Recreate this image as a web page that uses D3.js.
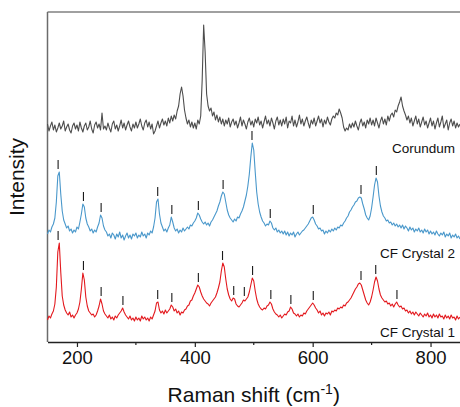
<!DOCTYPE html>
<html>
<head>
<meta charset="utf-8">
<script src="https://cdn.jsdelivr.net/npm/d3@7"></script>
<style>
    html, body { margin: 0; padding: 0; background: #fff; }
    svg { display: block; font-family: "Liberation Sans", Arial, Helvetica, sans-serif; }
</style>
</head>
<body>
<div id="chart"></div>
<script>
// Raman shift grid (cm-1), one sample every 2.5 cm-1 from 150 to 850
const shiftStart = 150, shiftStep = 2.5;

// Intensities (arbitrary units, vertical offsets included)
// one row = 50 cm-1
const corundum = [
    218, 211, 216, 220, 212, 217, 210, 214, 219, 213, 216, 221, 211, 215, 218, 212, 209, 216, 219, 213,
    217, 211, 220, 214, 210, 216, 219, 212, 215, 221, 213, 209, 217, 220, 214, 218, 212, 229, 213, 216,
    212, 219, 214, 210, 218, 221, 213, 217, 211, 216, 222, 214, 219, 212, 217, 221, 215, 211, 218, 214,
    220, 214, 218, 223, 216, 212, 219, 222, 215, 220, 213, 218, 208, 211, 216, 221, 214, 219, 223, 217,
    221, 216, 224, 219, 226, 221, 227, 223, 231, 236, 248, 255, 246, 232, 224, 218, 222, 215, 220, 214,
    219, 213, 222, 218, 226, 262, 317, 290, 248, 236, 231, 234, 226, 230, 222, 227, 220, 225, 218, 223,
    216, 222, 218, 224, 215, 220, 223, 217, 221, 214, 219, 225, 216, 222, 218, 213, 220, 224, 217, 221,
    215, 223, 219, 225, 217, 221, 214, 220, 226, 218, 222, 216, 224, 219, 213, 221, 225, 217, 222, 216,
    223, 218, 225, 214, 221, 219, 226, 216, 222, 215, 220, 227, 218, 223, 216, 221, 225, 219, 214, 222,
    218, 224, 216, 221, 226, 219, 223, 215, 222, 218, 225, 220, 217, 223, 226, 224, 229, 227, 233, 229,
    224, 215, 211, 214, 212, 218, 214, 219, 215, 221, 216, 212, 219, 223, 216, 220, 214, 222, 218, 224,
    217, 222, 216, 224, 219, 214, 221, 225, 218, 223, 217, 226, 221, 227, 229, 225, 232, 230, 236, 240,
    245, 236, 231, 227, 222, 226, 219, 224, 216, 221, 226, 218, 223, 215, 220, 225, 217, 221, 214, 219,
    224, 216, 221, 213, 219, 224, 215, 220, 226, 214, 218, 222, 212, 219, 223, 216, 221, 214, 219, 215,
    218
];

const crystal2 = [
    108, 112, 110, 115, 118, 124, 140, 166, 170, 148, 131, 122, 118, 114, 116, 111, 113, 109, 112, 110,
    115, 113, 120, 128, 138, 135, 124, 118, 115, 111, 113, 109, 112, 110, 115, 119, 127, 124, 116, 112,
    110, 106, 108, 104, 109, 107, 103, 108, 105, 110, 104, 107, 102, 106, 109, 104, 107, 103, 108, 106,
    109, 104, 107, 105, 110, 106, 108, 104, 109, 107, 111, 109, 115, 124, 140, 143, 128, 119, 115, 111,
    113, 110, 114, 117, 125, 120, 114, 111, 113, 109, 112, 110, 114, 111, 113, 115, 113, 117, 116, 119,
    121, 124, 129, 127, 123, 120, 118, 120, 117, 119, 116, 120, 122, 125, 128, 131, 136, 140, 146, 150,
    148, 140, 132, 127, 124, 122, 120, 123, 121, 125, 124, 128, 131, 135, 141, 147, 156, 168, 185, 199,
    192, 170, 150, 138, 130, 125, 121, 119, 116, 118, 117, 121, 119, 114, 112, 114, 110, 112, 109, 111,
    108, 111, 107, 110, 106, 109, 107, 110, 105, 108, 110, 107, 109, 111, 112, 114, 116, 118, 121, 124,
    125, 122, 118, 116, 113, 114, 111, 112, 108, 111, 109, 112, 110, 113, 111, 114, 112, 115, 114, 117,
    116, 119, 121, 124, 126, 130, 132, 135, 137, 140, 141, 144, 145, 144, 138, 133, 127, 124, 122, 126,
    134, 145, 157, 164, 160, 146, 136, 130, 126, 124, 121, 122, 119, 120, 117, 119, 116, 118, 115, 117,
    114, 117, 113, 116, 114, 111, 115, 112, 114, 110, 113, 111, 114, 110, 112, 109, 113, 110, 112, 108,
    111, 108, 110, 107, 111, 108, 106, 109, 107, 110, 105, 108, 106, 109, 104, 107, 105, 108, 104, 106,
    103
];

const crystal1 = [
    22, 26, 24, 28, 31, 38, 55, 90, 99, 70, 46, 37, 32, 29, 27, 30, 25, 27, 24, 27,
    29, 33, 40, 53, 69, 62, 45, 36, 31, 29, 27, 28, 25, 27, 31, 36, 43, 38, 31, 28,
    26, 24, 27, 23, 25, 22, 26, 24, 27, 29, 31, 34, 30, 27, 25, 23, 26, 22, 24, 21,
    25, 22, 24, 21, 26, 23, 25, 22, 24, 21, 25, 23, 27, 31, 39, 40, 32, 29, 31, 28,
    32, 29, 31, 33, 37, 35, 31, 33, 29, 31, 27, 30, 29, 32, 33, 36, 37, 41, 42, 46,
    49, 53, 57, 55, 50, 46, 43, 41, 39, 38, 36, 39, 41, 43, 45, 49, 54, 60, 71, 79,
    75, 63, 53, 47, 43, 41, 44, 43, 38, 36, 35, 37, 39, 42, 41, 43, 45, 50, 57, 64,
    61, 51, 43, 38, 35, 33, 32, 34, 33, 36, 37, 40, 38, 33, 30, 28, 27, 25, 27, 24,
    26, 28, 27, 30, 31, 35, 33, 29, 28, 26, 28, 25, 27, 26, 29, 28, 31, 33, 35, 37,
    39, 37, 34, 32, 29, 31, 27, 29, 26, 29, 28, 30, 27, 31, 30, 32, 31, 34, 33, 35,
    34, 37, 36, 39, 40, 42, 44, 47, 50, 53, 55, 58, 59, 57, 52, 47, 42, 39, 37, 40,
    45, 52, 60, 65, 61, 53, 47, 44, 42, 40, 41, 38, 39, 36, 38, 35, 38, 40, 37, 35,
    36, 33, 34, 31, 32, 29, 31, 28, 30, 27, 30, 28, 26, 29, 27, 25, 28, 26, 29, 25,
    27, 24, 28, 25, 27, 24, 28, 25, 26, 23, 27, 24, 26, 23, 27, 24, 25, 22, 26, 23,
    25
];

// Peak marks (cm-1)
const crystal2Peaks = [168, 211, 241, 337, 361, 406, 448, 497, 528, 601, 682, 708];
const crystal1Peaks = [168, 211, 241, 278, 337, 361, 406, 447, 466, 484, 498, 529, 563, 601, 682, 707, 743];

const xTicks = [200, 400, 600, 800];
const xMinorTicks = [300, 500, 700];

const series = [
    { name: "Corundum", values: corundum, color: "#4d4d4d", peaks: [], labelY: 153 },
    { name: "CF Crystal 2", values: crystal2, color: "#4a98cb", peaks: crystal2Peaks, labelY: 258 },
    { name: "CF Crystal 1", values: crystal1, color: "#e3191e", peaks: crystal1Peaks, labelY: 337 }
];

// Chart sizing
const width = 460, height = 407;
const margin = { top: 12, right: 0, bottom: 65, left: 47.5 };

const svg = d3.select("#chart")
    .append("svg")
    .attr("width", width)
    .attr("height", height);

const x = d3.scaleLinear()
    .domain([150, 850])
    .range([margin.left, width - margin.right]);

const y = d3.scaleLinear()
    .domain([0, 330])
    .range([height - margin.bottom, margin.top]);

const plotBottom = height - margin.bottom;

// Frame: top border (grey) and left axis line
svg.append("line")
    .attr("x1", margin.left).attr("x2", width)
    .attr("y1", margin.top).attr("y2", margin.top)
    .attr("stroke", "#808080")
    .attr("stroke-width", 1.5);

svg.append("line")
    .attr("x1", margin.left).attr("x2", margin.left)
    .attr("y1", margin.top).attr("y2", plotBottom)
    .attr("stroke", "#6b6b6b")
    .attr("stroke-width", 1.5);

// Spectra
const line = d3.line()
    .x((d, i) => x(shiftStart + i * shiftStep))
    .y(d => y(d));

series.forEach(s => {
    svg.append("path")
        .datum(s.values)
        .attr("fill", "none")
        .attr("stroke", s.color)
        .attr("stroke-width", 1.1)
        .attr("stroke-linejoin", "round")
        .attr("d", line);

    // Short markers above each assigned peak
    s.peaks.forEach(p => {
        let top = 0;
        s.values.forEach((v, i) => {
            const shift = shiftStart + i * shiftStep;
            if (Math.abs(shift - p) <= 4 && v > top) top = v;
        });
        svg.append("line")
            .attr("x1", x(p)).attr("x2", x(p))
            .attr("y1", y(top) - 3)
            .attr("y2", y(top) - 12)
            .attr("stroke", "#1a1a1a")
            .attr("stroke-width", 1.1);
    });

    svg.append("text")
        .attr("x", 455)
        .attr("y", s.labelY)
        .attr("text-anchor", "end")
        .attr("font-size", "13.5px")
        .attr("fill", "#111")
        .text(s.name);
});

// Bottom axis
const xAxisG = svg.append("g")
    .attr("transform", `translate(0,${plotBottom})`)
    .call(d3.axisBottom(x).tickValues(xTicks).tickSize(5).tickSizeOuter(0).tickPadding(4));

xAxisG.select(".domain").attr("stroke", "#222").attr("stroke-width", 1.3);
xAxisG.selectAll(".tick line").attr("stroke", "#222").attr("stroke-width", 1.2);
xAxisG.selectAll(".tick text")
    .attr("font-family", "\"Liberation Sans\", Arial, sans-serif")
    .attr("font-size", "18.5px")
    .attr("fill", "#111");

svg.append("g")
    .attr("transform", `translate(0,${plotBottom})`)
    .selectAll("line")
    .data(xMinorTicks)
    .join("line")
    .attr("x1", d => x(d)).attr("x2", d => x(d))
    .attr("y1", 0).attr("y2", 3)
    .attr("stroke", "#222")
    .attr("stroke-width", 1.2);

// X label with superscript
const xLabel = svg.append("text")
    .attr("x", (margin.left + width) / 2)
    .attr("y", 402)
    .attr("text-anchor", "middle")
    .attr("font-size", "21px")
    .attr("fill", "#111");
xLabel.append("tspan").text("Raman shift (cm");
xLabel.append("tspan").attr("dy", -8).attr("font-size", "14px").text("-1");
xLabel.append("tspan").attr("dy", 8).text(")");

// Y label
svg.append("text")
    .attr("transform", `translate(24,${(margin.top + plotBottom) / 2})rotate(-90)`)
    .attr("text-anchor", "middle")
    .attr("font-size", "21px")
    .attr("fill", "#111")
    .text("Intensity");
</script>
</body>
</html>
